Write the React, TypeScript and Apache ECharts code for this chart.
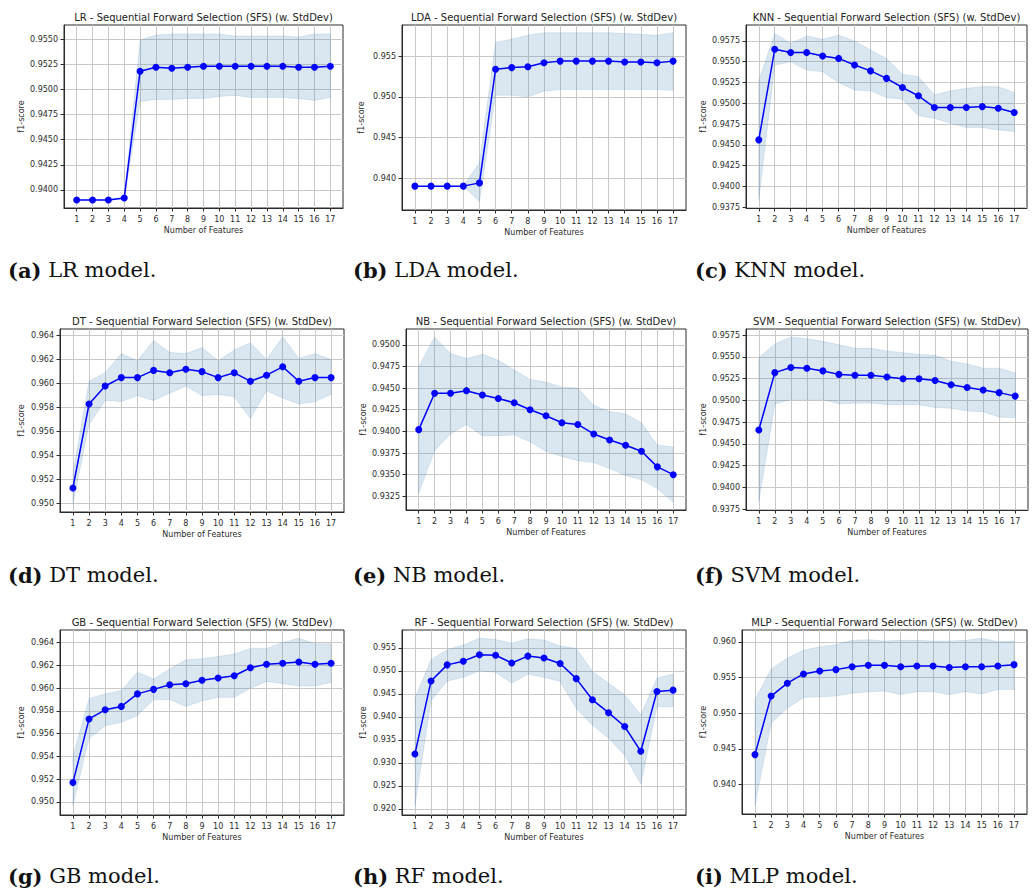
import React, { useEffect, useRef } from "react";
import * as echarts from "echarts";

const FEATURES = [1, 2, 3, 4, 5, 6, 7, 8, 9, 10, 11, 12, 13, 14, 15, 16, 17];

const LR_MEAN = [0.9390, 0.9390, 0.9390, 0.9392, 0.9518, 0.9522, 0.9521, 0.9522, 0.9523, 0.9523, 0.9523, 0.9523, 0.9523, 0.9523, 0.9522, 0.9522, 0.9523];
const LR_HI = [0.9390, 0.9390, 0.9390, 0.9393, 0.9549, 0.9554, 0.9555, 0.9555, 0.9555, 0.9555, 0.9553, 0.9553, 0.9553, 0.9553, 0.9552, 0.9555, 0.9555];
const LR_LO = [0.9390, 0.9390, 0.9390, 0.9391, 0.9488, 0.9490, 0.9490, 0.9491, 0.9491, 0.9493, 0.9494, 0.9492, 0.9492, 0.9492, 0.9491, 0.9489, 0.9492];
const LR_TICKS = [0.94, 0.9425, 0.945, 0.9475, 0.95, 0.9525, 0.955];

const LDA_MEAN = [0.9390, 0.9390, 0.9390, 0.9390, 0.9394, 0.9534, 0.9536, 0.9537, 0.9542, 0.9544, 0.9544, 0.9544, 0.9544, 0.9543, 0.9543, 0.9542, 0.9544];
const LDA_HI = [0.9390, 0.9390, 0.9390, 0.9390, 0.9419, 0.9567, 0.9571, 0.9576, 0.9579, 0.9579, 0.9579, 0.9579, 0.9579, 0.9578, 0.9577, 0.9576, 0.9579];
const LDA_LO = [0.9390, 0.9390, 0.9390, 0.9390, 0.9371, 0.9502, 0.9502, 0.9500, 0.9507, 0.9509, 0.9509, 0.9509, 0.9509, 0.9509, 0.9509, 0.9509, 0.9508];
const LDA_TICKS = [0.94, 0.945, 0.95, 0.955];

const KNN_MEAN = [0.9456, 0.9565, 0.9561, 0.9561, 0.9557, 0.9554, 0.9546, 0.9539, 0.9530, 0.9519, 0.9509, 0.9495, 0.9495, 0.9495, 0.9496, 0.9494, 0.9489];
const KNN_HI = [0.9527, 0.9584, 0.9572, 0.9581, 0.9577, 0.9582, 0.9575, 0.9564, 0.9554, 0.9535, 0.9532, 0.9510, 0.9515, 0.9518, 0.9520, 0.9520, 0.9513];
const KNN_LO = [0.9384, 0.9546, 0.9550, 0.9540, 0.9538, 0.9525, 0.9516, 0.9515, 0.9507, 0.9505, 0.9485, 0.9482, 0.9476, 0.9471, 0.9471, 0.9468, 0.9466];
const KNN_TICKS = [0.9375, 0.94, 0.9425, 0.945, 0.9475, 0.95, 0.9525, 0.955, 0.9575];

const DT_MEAN = [0.9513, 0.9583, 0.9598, 0.9605, 0.9605, 0.9611, 0.9609, 0.9612, 0.9610, 0.9605, 0.9609, 0.9602, 0.9607, 0.9614, 0.9602, 0.9605, 0.9605];
const DT_HI = [0.9525, 0.9602, 0.9609, 0.9625, 0.9619, 0.9636, 0.9626, 0.9625, 0.9630, 0.9619, 0.9628, 0.9634, 0.9620, 0.9639, 0.9621, 0.9625, 0.9620];
const DT_LO = [0.9500, 0.9566, 0.9586, 0.9585, 0.9590, 0.9586, 0.9592, 0.9598, 0.9590, 0.9591, 0.9589, 0.9571, 0.9594, 0.9588, 0.9583, 0.9585, 0.9591];
const DT_TICKS = [0.95, 0.952, 0.954, 0.956, 0.958, 0.96, 0.962, 0.964];

const NB_MEAN = [0.9402, 0.9444, 0.9444, 0.9447, 0.9442, 0.9438, 0.9433, 0.9425, 0.9418, 0.9410, 0.9408, 0.9397, 0.9390, 0.9384, 0.9377, 0.9359, 0.9350];
const NB_HI = [0.9475, 0.9509, 0.9490, 0.9484, 0.9489, 0.9482, 0.9471, 0.9460, 0.9457, 0.9451, 0.9450, 0.9430, 0.9423, 0.9420, 0.9410, 0.9384, 0.9382];
const NB_LO = [0.9329, 0.9378, 0.9397, 0.9408, 0.9395, 0.9395, 0.9396, 0.9388, 0.9377, 0.9371, 0.9366, 0.9364, 0.9357, 0.9349, 0.9344, 0.9334, 0.9318];
const NB_TICKS = [0.9325, 0.935, 0.9375, 0.94, 0.9425, 0.945, 0.9475, 0.95];

const SVM_MEAN = [0.9466, 0.9532, 0.9538, 0.9537, 0.9534, 0.9530, 0.9529, 0.9529, 0.9527, 0.9525, 0.9525, 0.9523, 0.9518, 0.9515, 0.9512, 0.9509, 0.9505];
const SVM_HI = [0.9549, 0.9565, 0.9573, 0.9571, 0.9568, 0.9564, 0.9560, 0.9560, 0.9557, 0.9555, 0.9553, 0.9552, 0.9545, 0.9542, 0.9537, 0.9537, 0.9532];
const SVM_LO = [0.9384, 0.9496, 0.9501, 0.9501, 0.9501, 0.9496, 0.9497, 0.9497, 0.9495, 0.9495, 0.9495, 0.9492, 0.9491, 0.9488, 0.9487, 0.9481, 0.9480];
const SVM_TICKS = [0.9375, 0.94, 0.9425, 0.945, 0.9475, 0.95, 0.9525, 0.955, 0.9575];

const GB_MEAN = [0.9517, 0.9573, 0.9581, 0.9584, 0.9595, 0.9599, 0.9603, 0.9604, 0.9607, 0.9609, 0.9611, 0.9618, 0.9621, 0.9622, 0.9623, 0.9621, 0.9622];
const GB_HI = [0.9540, 0.9591, 0.9595, 0.9598, 0.9614, 0.9608, 0.9617, 0.9625, 0.9626, 0.9628, 0.9630, 0.9635, 0.9635, 0.9640, 0.9644, 0.9639, 0.9639];
const GB_LO = [0.9497, 0.9556, 0.9567, 0.9570, 0.9576, 0.9590, 0.9590, 0.9584, 0.9589, 0.9592, 0.9592, 0.9600, 0.9606, 0.9604, 0.9602, 0.9602, 0.9605];
const GB_TICKS = [0.95, 0.952, 0.954, 0.956, 0.958, 0.96, 0.962, 0.964];

const RF_MEAN = [0.9319, 0.9478, 0.9513, 0.9521, 0.9535, 0.9534, 0.9517, 0.9532, 0.9528, 0.9516, 0.9483, 0.9437, 0.9409, 0.9379, 0.9325, 0.9455, 0.9458];
const RF_HI = [0.9440, 0.9524, 0.9546, 0.9556, 0.9571, 0.9568, 0.9560, 0.9570, 0.9567, 0.9554, 0.9549, 0.9499, 0.9473, 0.9448, 0.9404, 0.9484, 0.9493];
const RF_LO = [0.9207, 0.9435, 0.9478, 0.9486, 0.9500, 0.9497, 0.9473, 0.9493, 0.9486, 0.9477, 0.9418, 0.9382, 0.9354, 0.9316, 0.9254, 0.9422, 0.9422];
const RF_TICKS = [0.92, 0.925, 0.93, 0.935, 0.94, 0.945, 0.95, 0.955];

const MLP_MEAN = [0.9442, 0.9524, 0.9542, 0.9555, 0.9559, 0.9561, 0.9565, 0.9567, 0.9567, 0.9565, 0.9566, 0.9566, 0.9564, 0.9565, 0.9565, 0.9566, 0.9568];
const MLP_HI = [0.9519, 0.9562, 0.9577, 0.9588, 0.9593, 0.9596, 0.9602, 0.9603, 0.9601, 0.9602, 0.9602, 0.9601, 0.9601, 0.9602, 0.9605, 0.9600, 0.9601];
const MLP_LO = [0.9371, 0.9486, 0.9507, 0.9522, 0.9523, 0.9524, 0.9528, 0.9530, 0.9531, 0.9526, 0.9530, 0.9530, 0.9526, 0.9530, 0.9527, 0.9533, 0.9533];
const MLP_TICKS = [0.94, 0.945, 0.95, 0.955, 0.96];

const X_NAME = "Number of Features";
const Y_NAME = "f1-score";
const TITLE_SUFFIX = " - Sequential Forward Selection (SFS) (w. StdDev)";

const PANELS = [
  { letter: "(a)", model: "LR", mean: LR_MEAN, lo: LR_LO, hi: LR_HI, ticks: LR_TICKS, dec: 4, yMin: 0.9382, yMax: 0.9564, box: [64, 25, 279, 183], nameGap: 39, capX: 8, capY: 270 },
  { letter: "(b)", model: "LDA", mean: LDA_MEAN, lo: LDA_LO, hi: LDA_HI, ticks: LDA_TICKS, dec: 3, yMin: 0.93606, yMax: 0.95885, box: [402, 25, 284, 185], nameGap: 37, capX: 353, capY: 270 },
  { letter: "(c)", model: "KNN", mean: KNN_MEAN, lo: KNN_LO, hi: KNN_HI, ticks: KNN_TICKS, dec: 4, yMin: 0.9374, yMax: 0.95942, box: [746, 25, 281, 183], nameGap: 39, capX: 695, capY: 270 },
  { letter: "(d)", model: "DT", mean: DT_MEAN, lo: DT_LO, hi: DT_HI, ticks: DT_TICKS, dec: 3, yMin: 0.9493, yMax: 0.96455, box: [60, 329, 284, 183], nameGap: 35, capX: 8, capY: 575 },
  { letter: "(e)", model: "NB", mean: NB_MEAN, lo: NB_LO, hi: NB_HI, ticks: NB_TICKS, dec: 4, yMin: 0.93092, yMax: 0.95182, box: [406, 329, 280, 181], nameGap: 39, capX: 353, capY: 575 },
  { letter: "(f)", model: "SVM", mean: SVM_MEAN, lo: SVM_LO, hi: SVM_HI, ticks: SVM_TICKS, dec: 4, yMin: 0.9374, yMax: 0.95822, box: [746, 329, 282, 181], nameGap: 39, capX: 695, capY: 575 },
  { letter: "(g)", model: "GB", mean: GB_MEAN, lo: GB_LO, hi: GB_HI, ticks: GB_TICKS, dec: 3, yMin: 0.94885, yMax: 0.96512, box: [60, 630, 284, 185], nameGap: 35, capX: 8, capY: 876 },
  { letter: "(h)", model: "RF", mean: RF_MEAN, lo: RF_LO, hi: RF_HI, ticks: RF_TICKS, dec: 3, yMin: 0.91865, yMax: 0.95888, box: [402, 630, 284, 185], nameGap: 35, capX: 353, capY: 876 },
  { letter: "(i)", model: "MLP", mean: MLP_MEAN, lo: MLP_LO, hi: MLP_HI, ticks: MLP_TICKS, dec: 3, yMin: 0.93588, yMax: 0.96165, box: [742, 630, 285, 184], nameGap: 35, capX: 695, capY: 876 },
];

const SANS = "DejaVu Sans";
const SERIF = "DejaVu Serif";
const INK = "#2b2b2b";
const GRID_COLOR = "#c8c8c8";

function buildOption() {
  const grid: any[] = [];
  const xAxis: any[] = [];
  const yAxis: any[] = [];
  const series: any[] = [];
  const graphic: any[] = [];

  PANELS.forEach((p, i) => {
    const [left, top, width, height] = p.box;
    grid.push({
      left, top, width, height,
      show: true,
      borderColor: INK,
      borderWidth: 1,
      backgroundColor: "#ffffff",
    });
    xAxis.push({
      gridIndex: i,
      type: "value",
      min: 0.2,
      max: 17.8,
      name: X_NAME,
      nameLocation: "middle",
      nameGap: 18,
      nameTextStyle: { fontSize: 8, fontFamily: SANS, color: INK },
      axisLine: { show: true, onZero: false, lineStyle: { color: INK, width: 1 } },
      axisTick: { show: true, customValues: FEATURES, length: 3.5, lineStyle: { color: INK, width: 1 } },
      axisLabel: { customValues: FEATURES, fontSize: 8, fontFamily: SANS, color: INK, margin: 7 },
      splitLine: { show: true, lineStyle: { color: GRID_COLOR, width: 1 } },
    });
    yAxis.push({
      gridIndex: i,
      type: "value",
      min: p.yMin,
      max: p.yMax,
      name: Y_NAME,
      nameLocation: "middle",
      nameGap: p.nameGap,
      nameRotate: 90,
      nameTextStyle: { fontSize: 8, fontFamily: SANS, color: INK },
      axisLine: { show: true, onZero: false, lineStyle: { color: INK, width: 1 } },
      axisTick: { show: true, customValues: p.ticks, length: 3.5, lineStyle: { color: INK, width: 1 } },
      axisLabel: {
        customValues: p.ticks,
        fontSize: 8,
        fontFamily: SANS,
        color: INK,
        margin: 6,
        formatter: (v: number) => v.toFixed(p.dec),
      },
      splitLine: { show: true, lineStyle: { color: GRID_COLOR, width: 1 } },
    });

    const n = FEATURES.length;
    series.push({
      type: "custom",
      xAxisIndex: i,
      yAxisIndex: i,
      silent: true,
      z: 2,
      data: FEATURES.map((f, j) => [f, p.lo[j], p.hi[j]]),
      encode: { x: 0, y: [1, 2] },
      renderItem: (params: any, api: any) => {
        if (params.dataIndex !== 0) return null;
        const upper: number[][] = [];
        const lower: number[][] = [];
        for (let j = 0; j < n; j++) {
          const x = api.value(0, j);
          upper.push(api.coord([x, api.value(2, j)]));
          lower.push(api.coord([x, api.value(1, j)]));
        }
        return {
          type: "polygon",
          shape: { points: upper.concat(lower.reverse()) },
          style: { fill: "rgba(70,130,180,0.2)", stroke: "rgba(70,130,180,0.15)", lineWidth: 1 },
        };
      },
    });
    series.push({
      type: "line",
      xAxisIndex: i,
      yAxisIndex: i,
      z: 3,
      data: FEATURES.map((f, j) => [f, p.mean[j]]),
      symbol: "circle",
      symbolSize: 7,
      showSymbol: true,
      itemStyle: { color: "#0000ff" },
      lineStyle: { color: "#0000ff", width: 1.5 },
    });

    graphic.push({
      type: "text",
      x: left + width / 2,
      y: top - 8,
      style: {
        text: p.model + TITLE_SUFFIX,
        fontSize: 10,
        fontFamily: SANS,
        fill: "#222222",
        align: "center",
        verticalAlign: "middle",
        textAlign: "center",
        textVerticalAlign: "middle",
      },
    });
    graphic.push({
      type: "text",
      x: p.capX,
      y: p.capY,
      style: {
        text: "{b|" + p.letter + "} " + p.model + " model.",
        rich: { b: { fontWeight: "bold", fontSize: 21, fontFamily: SERIF, fill: "#111111" } },
        fontSize: 21,
        fontFamily: SERIF,
        fill: "#111111",
        align: "left",
        verticalAlign: "middle",
        textAlign: "left",
        textVerticalAlign: "middle",
      },
    });
  });

  return {
    animation: false,
    backgroundColor: "#ffffff",
    grid,
    xAxis,
    yAxis,
    series,
    graphic,
  };
}

export default function App() {
  const ref = useRef<HTMLDivElement>(null);
  useEffect(() => {
    if (!ref.current) return;
    const chart = echarts.init(ref.current, undefined, { renderer: "svg" });
    chart.setOption(buildOption() as any);
    return () => chart.dispose();
  }, []);
  return (
    <div
      ref={ref}
      style={{ position: "absolute", left: 0, top: 0, width: 1032, height: 891, background: "#fff" }}
    />
  );
}
